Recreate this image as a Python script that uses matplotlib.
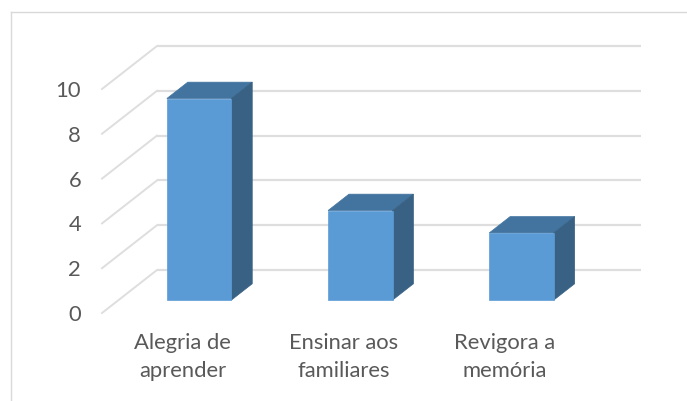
import matplotlib
matplotlib.use("Agg")
import matplotlib.pyplot as plt
from matplotlib.patches import Polygon
from matplotlib.lines import Line2D
from matplotlib.transforms import Affine2D

categories = ["Alegria de\naprender", "Ensinar aos\nfamiliares", "Revigora a\nmemória"]
values = [9, 4, 3]
y_ticks = [0, 2, 4, 6, 8, 10]

W, H = 687, 401
plt.rcParams["font.family"] = ["Lato", "DejaVu Sans"]
fig = plt.figure(figsize=(W / 100, H / 100), dpi=100)
fig.patch.set_facecolor("white")

# plot frame in pixels: front floor origin and scales
x0, y0 = 102, 313
cat_px, unit_px = 161.2, 22.4
ax = fig.add_axes([x0 / W, (H - y0) / H, 3 * cat_px / W, 10 * unit_px / H])
ax.set_xlim(0, 3)
ax.set_ylim(0, 10)
ax.patch.set_alpha(0)
for s in ax.spines.values():
    s.set_visible(False)

DX, DY = 55, 43  # oblique depth of the wall, px


def tr(d):
    return ax.transData + Affine2D().translate(DX * d, DY * d)


inv = ax.transData.inverted()


def pt(x, v, d):
    return inv.transform(tr(d).transform((x, v)))


grid = "#dedede"
for v in y_ticks:
    ax.plot([0, 3], [v, v], color=grid, lw=1.6, transform=tr(1), clip_on=False, solid_capstyle="butt", zorder=1)
    q0, q1 = pt(0, v, 0), pt(0, v, 1)
    ax.plot([q0[0], q1[0]], [q0[1], q1[1]], color=grid, lw=1.4, clip_on=False, zorder=1)

d_front, d_back = 0.30, 0.68
bar_w = 0.40
front_c, top_c, side_c = "#5b9bd5", "#42749f", "#386184"


def poly(pts, color, z):
    ax.add_patch(Polygon(pts, closed=True, facecolor=color, edgecolor=color, lw=0.5, clip_on=False, zorder=z))


for i, v in enumerate(values):
    l, r = i + 0.5 - bar_w / 2, i + 0.5 + bar_w / 2
    poly([pt(l, 0, d_front), pt(r, 0, d_front), pt(r, v, d_front), pt(l, v, d_front)], front_c, 4)
    poly([pt(l, v, d_front), pt(r, v, d_front), pt(r, v, d_back), pt(l, v, d_back)], top_c, 3)
    poly([pt(r, 0, d_front), pt(r, 0, d_back), pt(r, v, d_back), pt(r, v, d_front)], side_c, 3)

ax.set_xticks([i + 0.5 for i in range(len(categories))], categories, linespacing=1.52)
ax.set_yticks(y_ticks, [str(v) for v in y_ticks])
ax.tick_params(axis="both", length=0, labelsize=15.8, labelcolor="#595959")
ax.tick_params(axis="x", pad=14.5)
ax.tick_params(axis="y", pad=15)

# chart frame: top and left edges only are visible in the crop
frame = "#d9d9d9"
fig.add_artist(Line2D([11 / W, 1], [1 - 12 / H, 1 - 12 / H], transform=fig.transFigure, color=frame, lw=1.0))
fig.add_artist(Line2D([11 / W, 11 / W], [0, 1 - 12 / H], transform=fig.transFigure, color=frame, lw=1.0))

fig.savefig("out.png", dpi=100)
